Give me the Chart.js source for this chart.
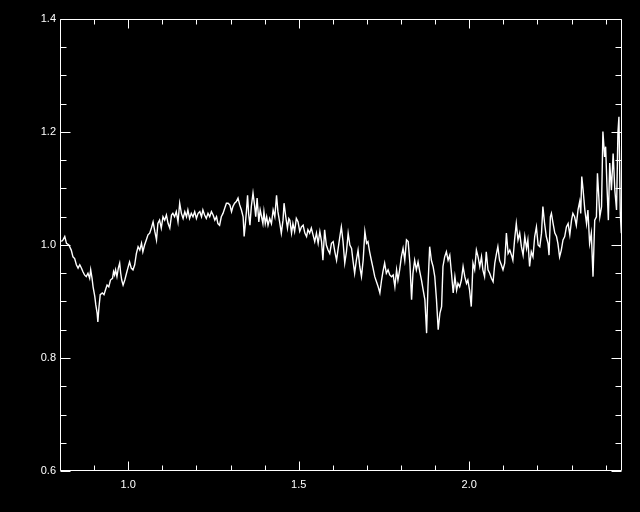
<!DOCTYPE html>
<html>
<head>
<meta charset="utf-8">
<script src="https://cdn.jsdelivr.net/npm/chart.js@4/dist/chart.umd.min.js"></script>
<style>
  html, body { margin: 0; padding: 0; background: #000; }
  #wrap { width: 640px; height: 512px; position: relative; }
</style>
</head>
<body>
<div id="wrap"><canvas id="spectrum"></canvas></div>
<script>
// x: wavelength, y: ratio
const wavelength = [
  0.804, 0.809, 0.814, 0.819, 0.826, 0.833, 0.838, 0.843, 0.848, 0.853, 0.858, 0.863, 0.867, 0.872, 0.877, 0.882,
  0.887, 0.890, 0.894, 0.897, 0.902, 0.905, 0.909, 0.911, 0.914, 0.918, 0.924, 0.929, 0.933, 0.938, 0.943, 0.948,
  0.954, 0.957, 0.960, 0.963, 0.967, 0.971, 0.975, 0.978, 0.981, 0.985, 0.990, 0.995, 0.999, 1.004, 1.009, 1.014,
  1.019, 1.024, 1.029, 1.034, 1.039, 1.043, 1.048, 1.053, 1.058, 1.063, 1.068, 1.073, 1.078, 1.083, 1.087, 1.092,
  1.097, 1.102, 1.107, 1.112, 1.117, 1.122, 1.127, 1.131, 1.136, 1.141, 1.146, 1.151, 1.156, 1.161, 1.166, 1.171,
  1.175, 1.180, 1.185, 1.190, 1.195, 1.200, 1.205, 1.210, 1.215, 1.219, 1.224, 1.229, 1.234, 1.239, 1.244, 1.249,
  1.254, 1.259, 1.263, 1.268, 1.273, 1.278, 1.283, 1.288, 1.293, 1.298, 1.303, 1.307, 1.312, 1.317, 1.322, 1.327,
  1.332, 1.337, 1.340, 1.344, 1.347, 1.350, 1.353, 1.357, 1.361, 1.366, 1.371, 1.374, 1.378, 1.383, 1.387, 1.391,
  1.395, 1.398, 1.402, 1.406, 1.410, 1.415, 1.420, 1.425, 1.430, 1.435, 1.439, 1.444, 1.449, 1.454, 1.457, 1.462,
  1.467, 1.471, 1.474, 1.479, 1.483, 1.488, 1.493, 1.498, 1.503, 1.508, 1.513, 1.518, 1.523, 1.527, 1.532, 1.537,
  1.542, 1.547, 1.552, 1.557, 1.562, 1.567, 1.571, 1.576, 1.581, 1.586, 1.591, 1.596, 1.601, 1.606, 1.611, 1.615,
  1.620, 1.625, 1.630, 1.635, 1.640, 1.645, 1.650, 1.655, 1.659, 1.664, 1.669, 1.674, 1.679, 1.684, 1.689, 1.694,
  1.699, 1.703, 1.708, 1.713, 1.718, 1.723, 1.728, 1.733, 1.738, 1.743, 1.747, 1.752, 1.757, 1.762, 1.767, 1.772,
  1.777, 1.782, 1.787, 1.791, 1.796, 1.801, 1.806, 1.811, 1.816, 1.821, 1.826, 1.831, 1.835, 1.840, 1.845, 1.850,
  1.855, 1.860, 1.865, 1.870, 1.875, 1.879, 1.884, 1.889, 1.894, 1.899, 1.904, 1.909, 1.914, 1.919, 1.923, 1.928,
  1.933, 1.938, 1.943, 1.948, 1.953, 1.958, 1.963, 1.967, 1.972, 1.977, 1.982, 1.987, 1.992, 1.996, 2.001, 2.006,
  2.011, 2.016, 2.021, 2.026, 2.031, 2.036, 2.040, 2.045, 2.050, 2.055, 2.060, 2.065, 2.070, 2.075, 2.080, 2.084,
  2.089, 2.094, 2.099, 2.104, 2.109, 2.114, 2.119, 2.124, 2.128, 2.133, 2.138, 2.143, 2.148, 2.153, 2.158, 2.163,
  2.168, 2.172, 2.177, 2.182, 2.187, 2.192, 2.197, 2.202, 2.207, 2.212, 2.216, 2.221, 2.226, 2.231, 2.234, 2.238,
  2.241, 2.246, 2.251, 2.256, 2.260, 2.265, 2.270, 2.275, 2.280, 2.285, 2.290, 2.295, 2.300, 2.304, 2.309, 2.314,
  2.319, 2.324, 2.327, 2.330, 2.334, 2.339, 2.344, 2.348, 2.353, 2.358, 2.363, 2.368, 2.373, 2.376, 2.380, 2.383,
  2.388, 2.392, 2.397, 2.400, 2.404, 2.408, 2.412, 2.417, 2.422, 2.427, 2.432, 2.436, 2.439, 2.443, 2.446
]
const ratio = [
  1.006, 1.009, 1.015, 1.003, 1.000, 0.991, 0.979, 0.976, 0.965, 0.959, 0.965, 0.959, 0.953, 0.947, 0.944, 0.950,
  0.941, 0.956, 0.941, 0.926, 0.909, 0.894, 0.879, 0.864, 0.888, 0.912, 0.915, 0.912, 0.920, 0.929, 0.926, 0.938,
  0.941, 0.953, 0.947, 0.956, 0.944, 0.959, 0.968, 0.950, 0.938, 0.929, 0.938, 0.950, 0.959, 0.970, 0.959, 0.956,
  0.965, 0.985, 0.997, 0.991, 1.003, 0.988, 1.000, 1.009, 1.018, 1.021, 1.030, 1.041, 1.024, 1.009, 1.038, 1.044,
  1.030, 1.050, 1.044, 1.053, 1.038, 1.030, 1.053, 1.056, 1.050, 1.059, 1.041, 1.074, 1.056, 1.047, 1.059, 1.050,
  1.062, 1.047, 1.056, 1.050, 1.059, 1.047, 1.056, 1.059, 1.050, 1.062, 1.053, 1.047, 1.056, 1.050, 1.059, 1.053,
  1.044, 1.050, 1.038, 1.035, 1.050, 1.056, 1.065, 1.074, 1.074, 1.071, 1.059, 1.068, 1.074, 1.077, 1.083, 1.071,
  1.062, 1.050, 1.015, 1.041, 1.062, 1.088, 1.056, 1.035, 1.068, 1.092, 1.068, 1.050, 1.083, 1.041, 1.062, 1.050,
  1.038, 1.059, 1.038, 1.050, 1.035, 1.047, 1.038, 1.062, 1.050, 1.088, 1.059, 1.041, 1.021, 1.044, 1.074, 1.050,
  1.030, 1.047, 1.044, 1.021, 1.038, 1.024, 1.047, 1.041, 1.024, 1.032, 1.035, 1.021, 1.015, 1.027, 1.021, 1.030,
  1.018, 1.006, 1.021, 1.003, 1.024, 1.006, 0.973, 1.027, 1.000, 0.991, 0.985, 1.003, 1.006, 0.988, 0.973, 0.991,
  1.012, 1.032, 1.006, 0.968, 0.988, 1.021, 1.000, 0.994, 0.973, 0.950, 0.973, 0.991, 0.962, 0.944, 0.973, 1.024,
  1.003, 1.006, 0.988, 0.973, 0.959, 0.944, 0.935, 0.926, 0.915, 0.938, 0.953, 0.968, 0.950, 0.956, 0.947, 0.944,
  0.947, 0.926, 0.956, 0.938, 0.956, 0.979, 0.994, 0.973, 1.009, 1.006, 0.968, 0.903, 0.950, 0.973, 0.956, 0.970,
  0.953, 0.938, 0.920, 0.903, 0.844, 0.926, 0.997, 0.973, 0.962, 0.944, 0.903, 0.850, 0.879, 0.891, 0.962, 0.979,
  0.988, 0.973, 0.982, 0.950, 0.915, 0.944, 0.920, 0.932, 0.926, 0.938, 0.962, 0.944, 0.932, 0.938, 0.920, 0.891,
  0.968, 0.956, 0.991, 0.979, 0.962, 0.979, 0.956, 0.944, 0.988, 0.956, 0.950, 0.941, 0.935, 0.968, 0.985, 0.997,
  0.973, 0.965, 0.956, 0.968, 1.021, 0.985, 0.991, 0.982, 0.973, 1.009, 1.038, 1.009, 1.021, 0.997, 0.982, 1.015,
  0.994, 1.009, 0.962, 0.988, 0.979, 1.015, 1.032, 1.000, 0.997, 1.021, 1.068, 1.038, 1.015, 1.003, 0.982, 1.050,
  1.056, 1.038, 1.021, 1.015, 1.003, 0.979, 0.991, 1.009, 1.015, 1.032, 1.038, 1.018, 1.044, 1.056, 1.050, 1.035,
  1.062, 1.077, 1.056, 1.121, 1.097, 1.062, 1.038, 1.062, 1.003, 1.021, 0.944, 1.044, 1.050, 1.127, 1.085, 1.050,
  1.068, 1.201, 1.156, 1.174, 1.103, 1.044, 1.145, 1.097, 1.162, 1.097, 1.062, 1.198, 1.227, 1.056, 1.021
]

const X_MIN = 0.8
const X_MAX = 2.448
const Y_MIN = 0.6
const Y_MAX = 1.4
const xMinorTicks = [0.8, 0.9, 1.0, 1.1, 1.2, 1.3, 1.4, 1.5, 1.6, 1.7, 1.8, 1.9, 2.0, 2.1, 2.2, 2.3, 2.4]
const xMajorTicks = [1.0, 1.5, 2.0]
const yMinorTicks = [0.6, 0.65, 0.7, 0.75, 0.8, 0.85, 0.9, 0.95, 1.0, 1.05, 1.1, 1.15, 1.2, 1.25, 1.3, 1.35, 1.4]
const yMajorTicks = [0.6, 0.8, 1.0, 1.2, 1.4]

const points = wavelength.map((w, i) => ({ x: w, y: ratio[i] }))

// IDL-style box with inward ticks on all four sides
const frame = {
  id: 'frame',
  afterDraw(chart) {
    const { ctx, chartArea: a, scales } = chart
    const xs = scales.x
    const ys = scales.y
    ctx.save()
    ctx.strokeStyle = '#fff'
    ctx.lineWidth = 1
    const L = Math.round(a.left) + 0.5
    const R = Math.round(a.right) - 0.5
    const T = Math.round(a.top) + 0.5
    const B = Math.round(a.bottom) - 0.5
    ctx.beginPath()
    ctx.rect(L, T, R - L, B - T)
    ctx.stroke()

    ctx.beginPath()
    for (const v of xMinorTicks) {
      const len = xMajorTicks.some(m => Math.abs(m - v) < 1e-6) ? 9 : 5
      const px = Math.round(xs.getPixelForValue(v)) + 0.5
      ctx.moveTo(px, B); ctx.lineTo(px, B - len)
      ctx.moveTo(px, T); ctx.lineTo(px, T + len)
    }
    for (const v of yMinorTicks) {
      const len = yMajorTicks.some(m => Math.abs(m - v) < 1e-6) ? 10 : 6
      const py = Math.round(ys.getPixelForValue(v)) + 0.5
      ctx.moveTo(L, py); ctx.lineTo(L + len, py)
      ctx.moveTo(R, py); ctx.lineTo(R - len, py)
    }
    ctx.stroke()
    ctx.restore()
  }
}

const tickFont = { family: 'Liberation Sans', size: 11 }

new Chart(document.getElementById('spectrum'), {
  type: 'scatter',
  data: {
    datasets: [{
      data: points,
      showLine: true,
      borderColor: '#fff',
      borderWidth: 1.4,
      pointRadius: 0,
      tension: 0,
      fill: false,
    }]
  },
  options: {
    responsive: true,
    maintainAspectRatio: false,
    animation: false,
    events: [],
    layout: { padding: { top: 19, right: 18, left: 0, bottom: 0 } },
    plugins: {
      legend: { display: false },
      tooltip: { enabled: false },
    },
    scales: {
      x: {
        type: 'linear',
        min: X_MIN,
        max: X_MAX,
        border: { display: false },
        grid: { display: false, drawTicks: false },
        afterFit(s) { s.height = 41 },
        ticks: {
          stepSize: 0.5,
          includeBounds: false,
          color: '#fff',
          font: tickFont,
          padding: 7,
          maxRotation: 0,
          callback: v => Number(v).toFixed(1),
        },
      },
      y: {
        type: 'linear',
        min: Y_MIN,
        max: Y_MAX,
        border: { display: false },
        grid: { display: false, drawTicks: false },
        afterFit(s) { s.width = 60 },
        ticks: {
          stepSize: 0.2,
          color: '#fff',
          font: tickFont,
          padding: 4,
          callback: v => Number(v).toFixed(1),
        },
      },
    },
  },
  plugins: [frame],
})
</script>
</body>
</html>
